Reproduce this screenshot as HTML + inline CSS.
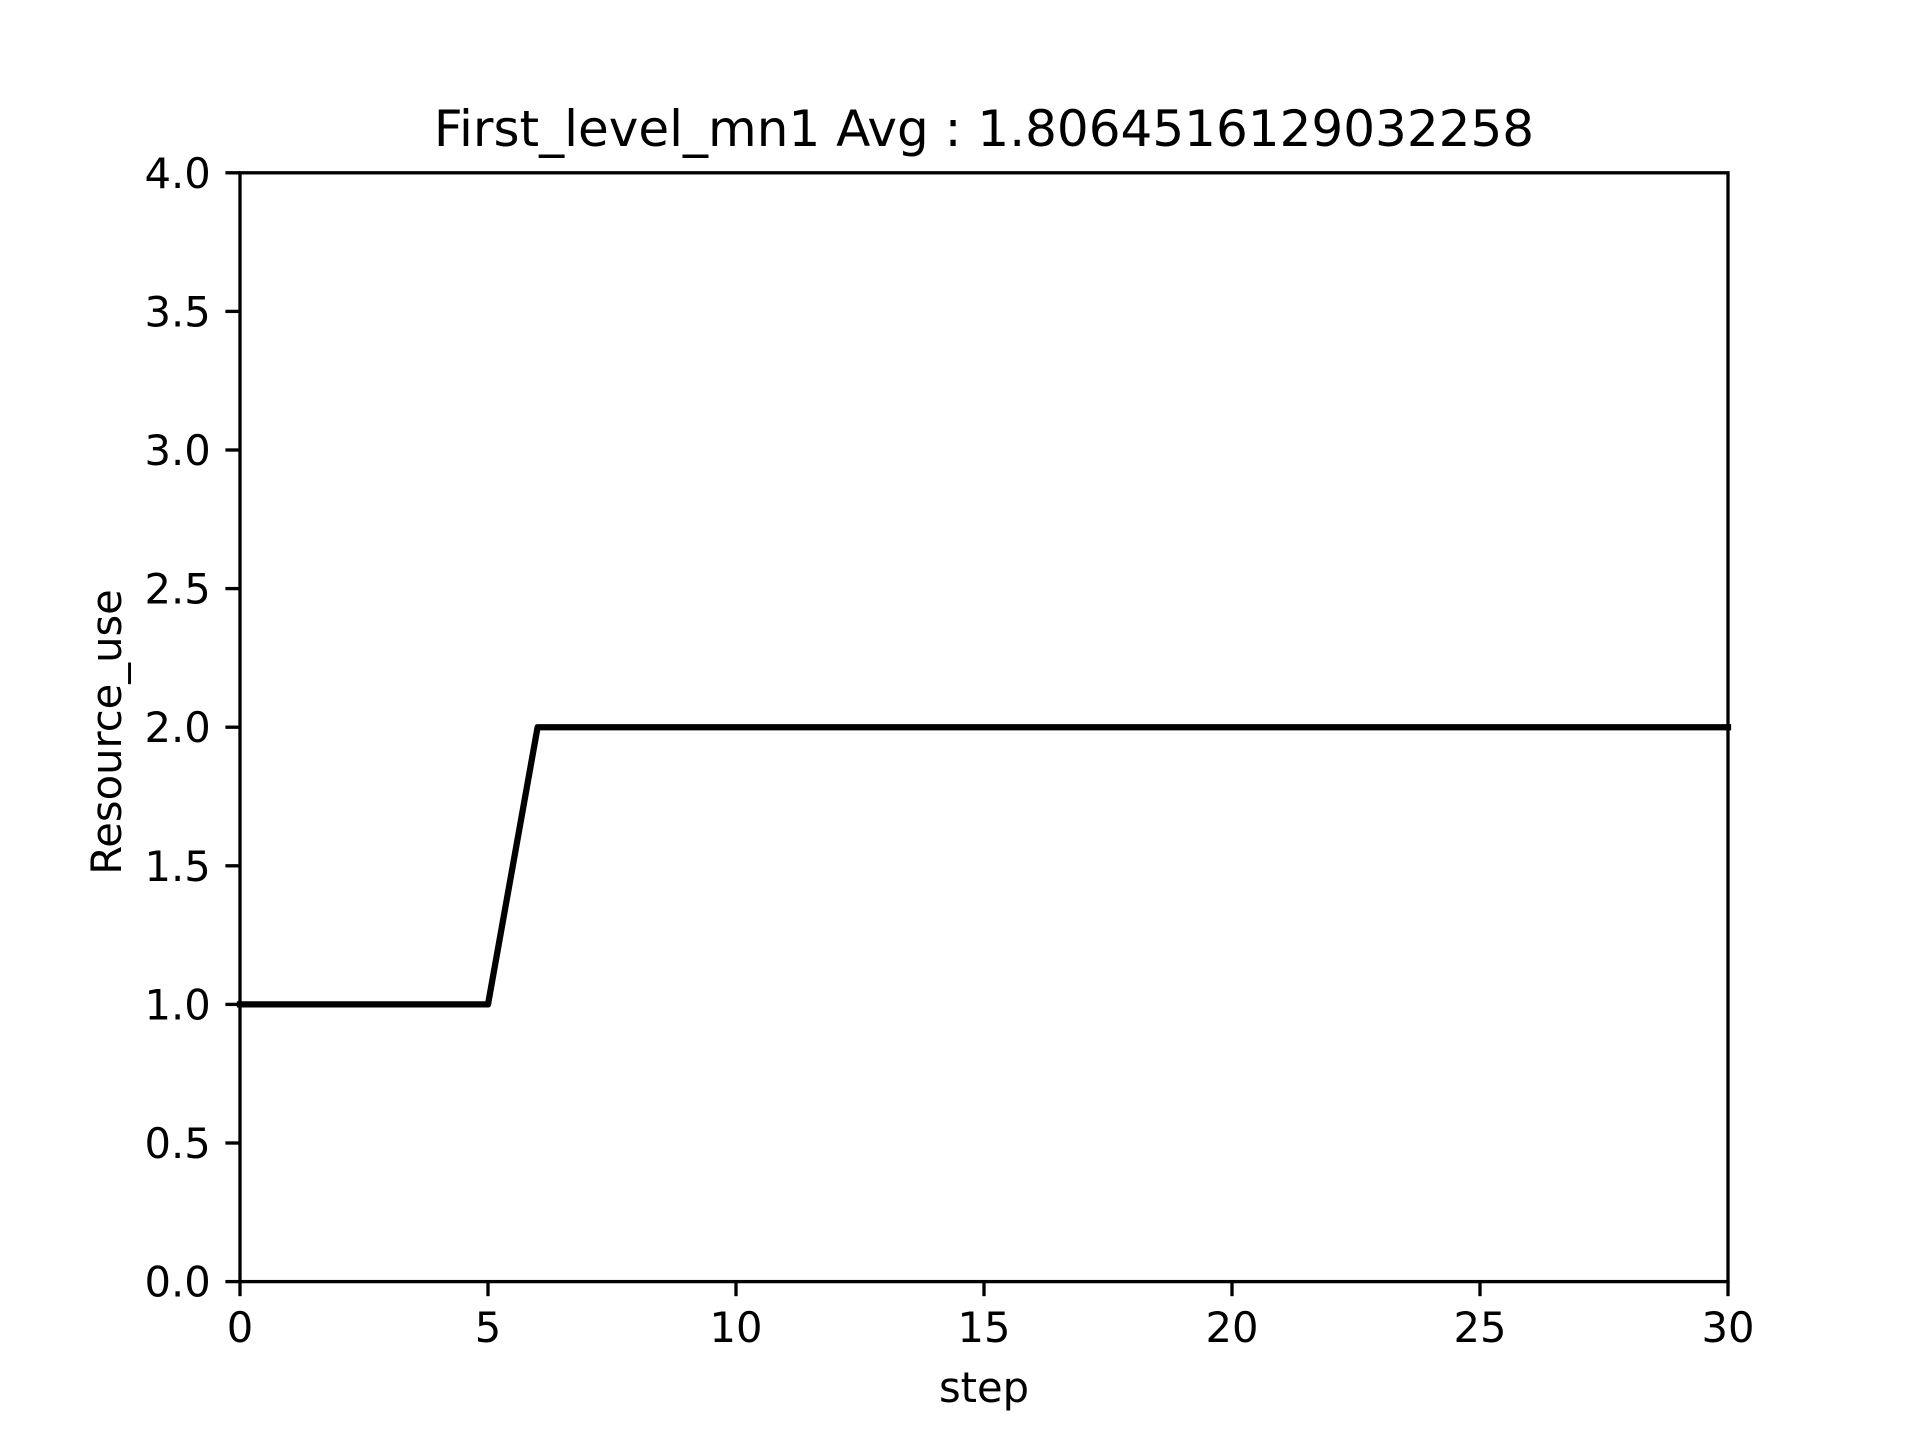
<!DOCTYPE html>
<html><head><meta charset="utf-8"><style>
html,body{margin:0;padding:0;background:#fff;}
svg{display:block;}
text{font-family:"DejaVu Sans","Liberation Sans",sans-serif;fill:#000;}
</style></head><body>
<svg id="chart" width="1920" height="1440" viewBox="0 0 1920 1440" xmlns="http://www.w3.org/2000/svg">
<rect width="1920" height="1440" fill="#fff"/>
<text x="984" y="146" font-size="50" text-anchor="middle">First_level_mn1 Avg : 1.8064516129032258</text>
<g id="axes"></g>
<text x="984" y="1402" font-size="41.67" text-anchor="middle">step</text>
<text x="0" y="0" font-size="41.67" text-anchor="middle" transform="translate(121,732) rotate(-90)">Resource_use</text>
</svg>
<script>
const steps = [0,1,2,3,4,5,6,7,8,9,10,11,12,13,14,15,16,17,18,19,20,21,22,23,24,25,26,27,28,29,30];
const resourceUse = [1,1,1,1,1,1,2,2,2,2,2,2,2,2,2,2,2,2,2,2,2,2,2,2,2,2,2,2,2,2,2];
const xTicks = [0,5,10,15,20,25,30];
const yTicks = [0.0,0.5,1.0,1.5,2.0,2.5,3.0,3.5,4.0];
const yTickLabels = ["0.0","0.5","1.0","1.5","2.0","2.5","3.0","3.5","4.0"];

const L=240,R=1728,T=172.8,B=1281.6;
const xMin=0,xMax=30,yMin=0,yMax=4;
function xs(v){return L+(v-xMin)/(xMax-xMin)*(R-L);}
function ys(v){return B-(v-yMin)/(yMax-yMin)*(B-T);}
const NS="http://www.w3.org/2000/svg";
const g=document.getElementById('axes');
function mk(tag,attrs){const e=document.createElementNS(NS,tag);for(const k in attrs)e.setAttribute(k,attrs[k]);g.appendChild(e);return e;}

const line=mk('polyline',{points:steps.map((s,i)=>xs(s)+','+ys(resourceUse[i])).join(' '),fill:'none',stroke:'#000','stroke-width':6.25,'stroke-linejoin':'round','stroke-linecap':'square'});



xTicks.forEach(v=>{
  const t=mk('line',{x1:xs(v),x2:xs(v),y1:B,y2:B+14.6,stroke:'#000','stroke-width':3.33});
  
  
  const tx=mk('text',{x:xs(v),y:B+14.6+14.6+31,'font-size':41.67,'text-anchor':'middle'});
  tx.textContent=String(v);
  
  
});
yTicks.forEach((v,i)=>{
  const t=mk('line',{x1:L-14.6,x2:L,y1:ys(v),y2:ys(v),stroke:'#000','stroke-width':3.33});
  
  
  const tx=mk('text',{x:L-14.6-14.6,y:ys(v)+15,'font-size':41.67,'text-anchor':'end'});
  tx.textContent=yTickLabels[i];
  
  
});
const frame=mk('rect',{x:L,y:T,width:R-L,height:B-T,fill:'none',stroke:'#000','stroke-width':3.33});


</script>
</body></html>
